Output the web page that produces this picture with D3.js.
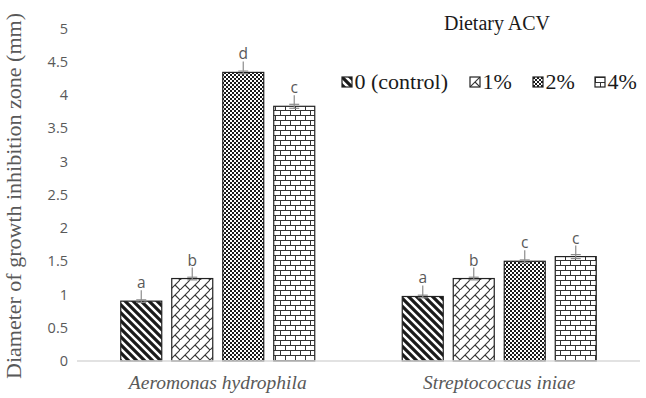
<!DOCTYPE html>
<html>
<head>
<meta charset="utf-8">
<script src="https://cdn.jsdelivr.net/npm/d3@7/dist/d3.min.js"></script>
<style>
  html, body { margin: 0; padding: 0; background: #fff; }
  svg { display: block; }
</style>
</head>
<body>
<svg id="chart" width="646" height="398"></svg>
<script>
// ---- data ----
const categories = ["Aeromonas hydrophila", "Streptococcus iniae"];
const seriesNames = ["0 (control)", "1%", "2%", "4%"];
const valControl = [0.90, 0.97];
const val1 = [1.24, 1.24];
const val2 = [4.34, 1.50];
const val4 = [3.83, 1.57];
const errControl = [0.02, 0.02];
const err1 = [0.02, 0.02];
const err2 = [0.02, 0.02];
const err4 = [0.03, 0.03];
const letControl = ["a", "a"];
const let1 = ["b", "b"];
const let2 = ["d", "c"];
const let4 = ["c", "c"];
const yTicks = [0, 0.5, 1, 1.5, 2, 2.5, 3, 3.5, 4, 4.5, 5];
const yTickLabels = ["0", "0.5", "1", "1.5", "2", "2.5", "3", "3.5", "4", "4.5", "5"];
const yTitle = "Diameter of growth inhibition zone (mm)";
const legendTitle = "Dietary ACV";

const values = [valControl, val1, val2, val4];
const errs = [errControl, err1, err2, err4];
const lets = [letControl, let1, let2, let4];
const patIds = ["pDiag", "pDBrick", "pCheck", "pHBrick"];

const svg = d3.select("#chart");
const defs = svg.append("defs");
const serif = "'Liberation Serif', 'Times New Roman', serif";

// patterns
const ink = "#1a1a1a";
{
  const p = defs.append("pattern").attr("id", "pDiag").attr("patternUnits", "userSpaceOnUse")
    .attr("width", 8).attr("height", 8);
  p.append("rect").attr("width", 8).attr("height", 8).attr("fill", "#fff");
  p.append("path").attr("d", "M-2,-2 L10,10 M-2,6 L2,10 M6,-2 L10,2")
    .attr("stroke", ink).attr("stroke-width", 3.2);
}
{
  const s = 10;
  const p = defs.append("pattern").attr("id", "pDBrick").attr("patternUnits", "userSpaceOnUse")
    .attr("width", s).attr("height", s);
  p.append("rect").attr("width", s).attr("height", s).attr("fill", "#fff");
  p.append("path").attr("d", `M${-1},${s+1} L${s+1},${-1} M${s/2},${s/2} L${s},${s} M${s/2-s},${s/2} L0,${s}`)
    .attr("stroke", "#333").attr("stroke-width", 1.1).attr("fill", "none");
}
{
  const p = defs.append("pattern").attr("id", "pCheck").attr("patternUnits", "userSpaceOnUse")
    .attr("width", 4).attr("height", 4);
  p.append("rect").attr("width", 4).attr("height", 4).attr("fill", "#fff");
  p.append("rect").attr("width", 2).attr("height", 2).attr("fill", ink);
  p.append("rect").attr("x", 2).attr("y", 2).attr("width", 2).attr("height", 2).attr("fill", ink);
}
{
  const p = defs.append("pattern").attr("id", "pHBrick").attr("patternUnits", "userSpaceOnUse")
    .attr("width", 10).attr("height", 10);
  p.append("rect").attr("width", 10).attr("height", 10).attr("fill", "#fff");
  p.append("path").attr("d", "M0,0.5 H10 M0,5.5 H10 M0.5,0.5 V5.5 M5.5,5.5 V10.5")
    .attr("stroke", "#333").attr("stroke-width", 1).attr("fill", "none");
}

// scales
const x0 = d3.scaleBand().domain(categories).range([77, 640]).paddingInner(0).paddingOuter(0);
const x1 = d3.scaleBand().domain(seriesNames).range([0, x0.bandwidth()])
  .paddingInner(0.196).paddingOuter(0.858);
const y = d3.scaleLinear().domain([0, 5]).range([361, 28.5]);

// y axis
const yAxis = d3.axisLeft(y).tickValues(yTicks).tickFormat((d, i) => yTickLabels[i])
  .tickSize(0).tickPadding(9);
const gy = svg.append("g").attr("transform", "translate(77,0)").call(yAxis);
gy.select(".domain").remove();
gy.selectAll("text").attr("fill", "#595959").style("font-family", "'Open Sans', sans-serif")
  .style("font-size", "14.5px");

// y title
svg.append("text")
  .attr("transform", `translate(21,${196}) rotate(-90)`)
  .attr("text-anchor", "middle")
  .attr("fill", "#595959")
  .style("font-family", serif)
  .style("font-size", "22px")
  .text(yTitle);

// bars
seriesNames.forEach((s, si) => {
  const g = svg.append("g");
  categories.forEach((c, ci) => {
    const v = values[si][ci];
    const bx = x0(c) + x1(s);
    g.append("rect")
      .attr("x", bx).attr("y", y(v))
      .attr("width", x1.bandwidth()).attr("height", y(0) - y(v))
      .attr("fill", `url(#${patIds[si]})`)
      .attr("stroke", "#222").attr("stroke-width", 1.2);
  });
});

// error bars & letters
seriesNames.forEach((s, si) => {
  categories.forEach((c, ci) => {
    const v = values[si][ci], e = errs[si][ci];
    const cx = x0(c) + x1(s) + x1.bandwidth() / 2;
    const labY = y(v) - 13;
    svg.append("line").attr("x1", cx).attr("x2", cx)
      .attr("y1", y(v - e)).attr("y2", labY + 2)
      .attr("stroke", "#8c8c8c").attr("stroke-width", 1.2);
    [v - e, v + e].forEach(t => {
      svg.append("line").attr("x1", cx - 5).attr("x2", cx + 5)
        .attr("y1", y(t)).attr("y2", y(t))
        .attr("stroke", "#8c8c8c").attr("stroke-width", 1.2);
    });
    svg.append("text").attr("x", cx).attr("y", labY)
      .attr("text-anchor", "middle").attr("fill", "#595959")
      .style("font-family", "'Open Sans', sans-serif").style("font-size", "15.5px")
      .text(lets[si][ci]);
  });
});

// x axis line
svg.append("line").attr("x1", 77).attr("x2", 640).attr("y1", y(0)).attr("y2", y(0))
  .attr("stroke", "#d9d9d9").attr("stroke-width", 1.5);

// category labels
const xAxis = d3.axisBottom(x0).tickSize(0).tickPadding(14);
const gx = svg.append("g").attr("transform", `translate(0,${y(0)})`).call(xAxis);
gx.select(".domain").remove();
gx.selectAll("text").attr("fill", "#595959")
  .style("font-family", serif)
  .style("font-style", "italic").style("font-size", "19.5px");

// legend
svg.append("text").attr("x", 497).attr("y", 30).attr("text-anchor", "middle")
  .attr("fill", "#1a1a1a")
  .style("font-family", serif).style("font-size", "20px")
  .text(legendTitle);

const legX = [342, 470, 533, 595];
seriesNames.forEach((s, si) => {
  const g = svg.append("g").attr("transform", `translate(${legX[si]},77)`);
  g.append("rect").attr("width", 10).attr("height", 10)
    .attr("fill", `url(#${patIds[si]})`).attr("stroke", "#222").attr("stroke-width", 1.2);
  g.append("text").attr("x", 12.5).attr("y", 11.5).attr("fill", "#1a1a1a")
    .style("font-family", serif).style("font-size", "22px")
    .text(s);
});
</script>
</body>
</html>
